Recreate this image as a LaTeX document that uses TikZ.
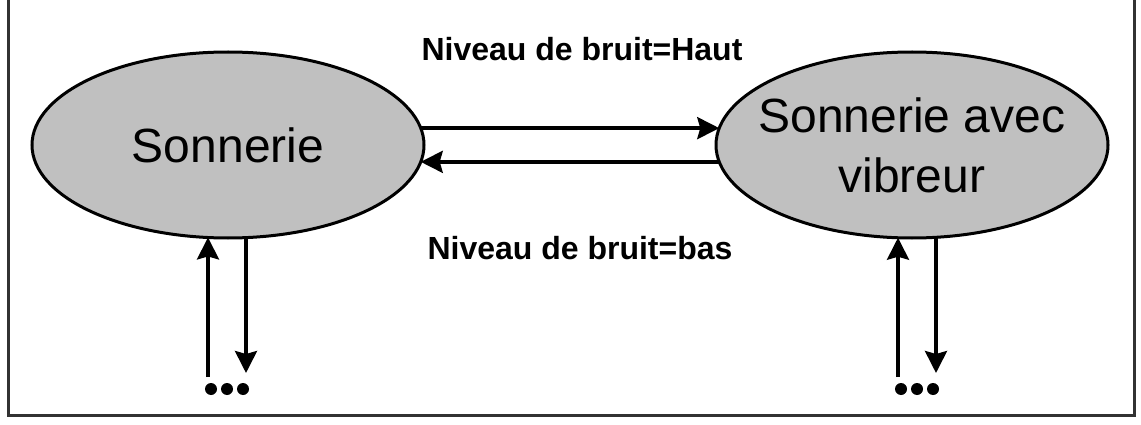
\documentclass[tikz,border=0pt]{standalone}
\usepackage{fontspec}
\setmainfont{Liberation Sans}
\usetikzlibrary{shapes.geometric,arrows.meta}
\begin{document}
\begin{tikzpicture}[x=1pt,y=-1pt,
  state/.style={ellipse,draw=black,fill=stategray,line width=3pt,minimum width=392pt,minimum height=186pt,inner ysep=0pt,inner xsep=-60pt,outer sep=0pt,align=center,font=\fontsize{48}{60}\selectfont},
  lbl/.style={font=\fontsize{32}{38}\selectfont\bfseries,inner sep=0pt},
  arr/.style={line width=3.4pt,-{Stealth[length=22pt,width=22pt,inset=3pt]}},
  dot/.style={circle,fill=black,inner sep=0pt,minimum size=12pt}]
\definecolor{stategray}{RGB}{192,192,192}
\definecolor{framegray}{RGB}{50,50,50}
\useasboundingbox (0,0) rectangle (1141,425);
\begin{scope}
\clip (0,0) rectangle (1141,425);
\draw[framegray,line width=3pt] (8,-20) rectangle (1134,415);
\end{scope}
\node[state] (s) at (228,145) {Sonnerie};
\node[state] (v) at (912,145) {Sonnerie avec\\vibreur};
\node[lbl] (lh) at (582,49) {Niveau de bruit=Haut};
\node[lbl] (lb) at (580,248) {Niveau de bruit=bas};
\draw[arr] (s.5) -- (v.175);
\draw[arr] (v.185.6) -- (s.-5.6);
% left loops
\coordinate (a1) at (208,377);
\coordinate (a2) at (246,373);
\draw[arr] (a1) -- (a1 |- s.257.8);
\draw[arr] (a2 |- s.281) -- (a2);
\node[dot] (d1) at (211,389) {};
\node[dot] (d2) at (227,389) {};
\node[dot] (d3) at (243,389) {};
% right loops
\coordinate (b1) at (898,377);
\coordinate (b2) at (936,373);
\draw[arr] (b1) -- (b1 |- v.261.4);
\draw[arr] (b2 |- v.284.6) -- (b2);
\node[dot] (e1) at (901,389) {};
\node[dot] (e2) at (917,389) {};
\node[dot] (e3) at (933,389) {};
\end{tikzpicture}
\end{document}
